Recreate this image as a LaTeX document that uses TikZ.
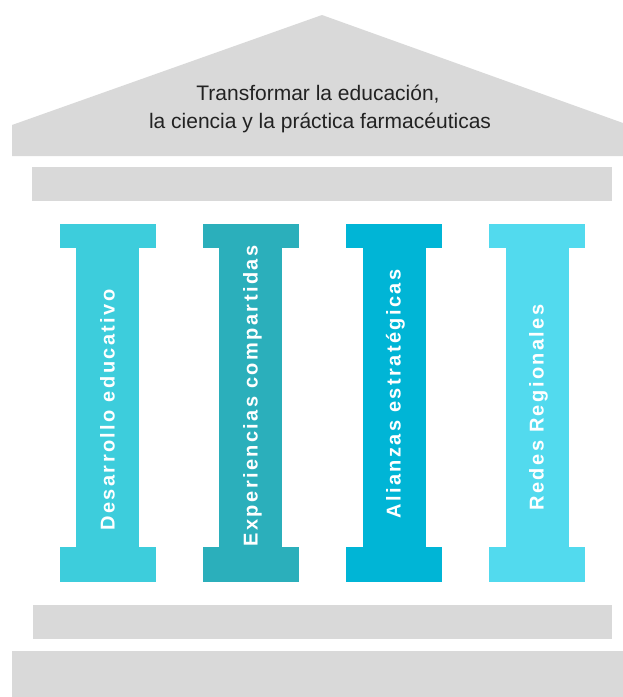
\documentclass[tikz,border=0pt]{standalone}
\usepackage{fontspec}
\setmainfont{Liberation Sans}
\newfontfamily\pillarfont{Liberation Sans Bold}[LetterSpace=12]
\definecolor{stonegray}{HTML}{D9D9D9}
\definecolor{roofink}{HTML}{222222}
\definecolor{pilA}{HTML}{3DCDDC}
\definecolor{pilB}{HTML}{2BAFBB}
\definecolor{pilC}{HTML}{00B5D6}
\definecolor{pilD}{HTML}{52DAEE}
\tikzset{
  stone/.style={fill=stonegray, draw=none},
  rooftext/.style={anchor=base, inner sep=0pt, text=roofink, font=\fontsize{21}{25}\selectfont},
  pillartext/.style={anchor=mid, rotate=90, inner sep=0pt, text=white, font=\pillarfont\fontsize{20}{24}\selectfont}
}
\newcommand{\drawpillar}[2]{%
  \fill[#2] (#1-48,224) rectangle (#1+48,248);
  \fill[#2] (#1-31.5,247) rectangle (#1+31.5,548);
  \fill[#2] (#1-48,547) rectangle (#1+48,582);
}
\begin{document}
\begin{tikzpicture}[x=1pt, y=-1pt]
\useasboundingbox (0,0) rectangle (623,697);
% roof
\fill[stone] (12,156) -- (12,125) -- (322,15) -- (623,123) -- (623,156) -- cycle;
\node[rooftext] (roof1) at (318,100) {Transformar la educación,};
\node[rooftext] (roof2) at (320,128) {la ciencia y la práctica farmacéuticas};
% architrave
\fill[stone] (32,167) rectangle (612,201);
% pillars
\drawpillar{107.5}{pilA}
\drawpillar{250.5}{pilB}
\drawpillar{394}{pilC}
\drawpillar{537}{pilD}
\node[pillartext] (p1) at (112,410) {Desarrollo educativo};
\node[pillartext] (p2) at (255,396) {Experiencias compartidas};
\node[pillartext] (p3) at (398,394) {Alianzas estratégicas};
\node[pillartext] (p4) at (541,407.5) {Redes Regionales};
% steps
\fill[stone] (33,605) rectangle (612,639);
\fill[stone] (12,651) rectangle (623,697);
\end{tikzpicture}
\end{document}
